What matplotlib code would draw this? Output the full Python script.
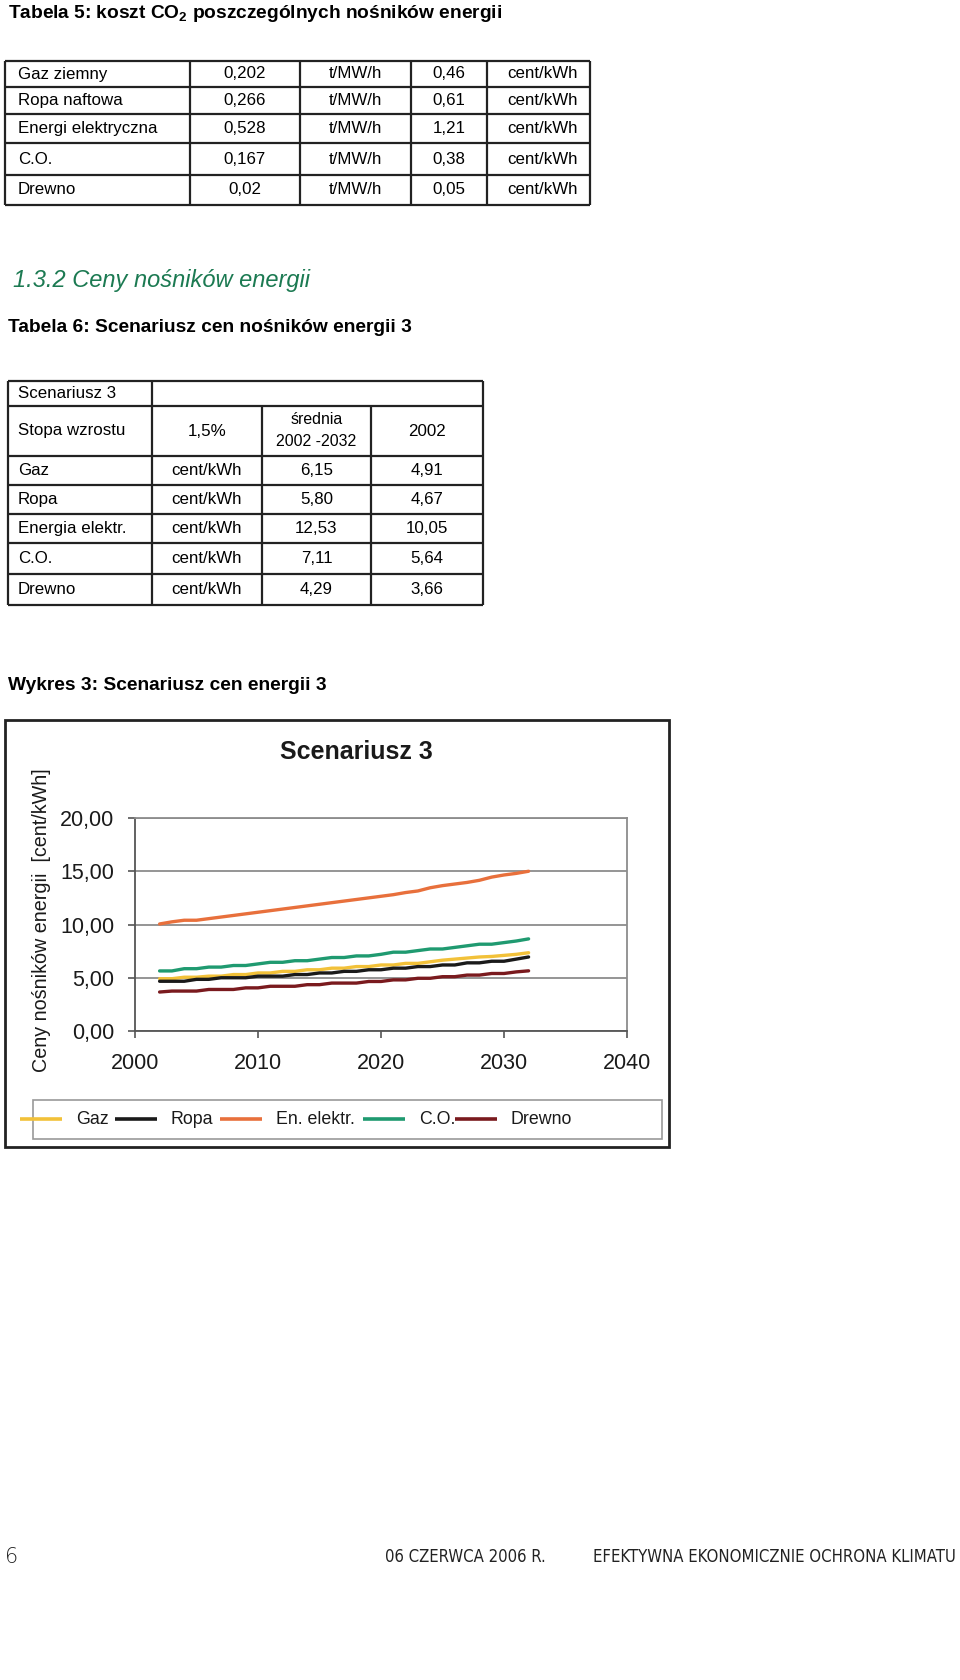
import matplotlib
matplotlib.use("Agg")
import matplotlib.pyplot as plt

plt.rcParams['font.family'] = ['Liberation Sans', 'DejaVu Sans']
plt.rcParams['mathtext.fontset'] = 'custom'
plt.rcParams['mathtext.rm'] = 'Liberation Sans'
plt.rcParams['mathtext.bf'] = 'Liberation Sans:bold'

# ---------------- data ----------------
t5_names = ["Gaz ziemny", "Ropa naftowa", "Energi elektryczna", "C.O.", "Drewno"]
t5_co2 = ["0,202", "0,266", "0,528", "0,167", "0,02"]
t5_unit1 = ["t/MW/h"] * 5
t5_cost = ["0,46", "0,61", "1,21", "0,38", "0,05"]
t5_unit2 = ["cent/kWh"] * 5

t6_names = ["Gaz", "Ropa", "Energia elektr.", "C.O.", "Drewno"]
t6_unit = ["cent/kWh"] * 5
t6_avg = ["6,15", "5,80", "12,53", "7,11", "4,29"]
t6_2002 = ["4,91", "4,67", "10,05", "5,64", "3,66"]

years = list(range(2002, 2033))
gaz = [4.91, 4.91, 5.05, 5.05, 5.15, 5.15, 5.30, 5.30, 5.45, 5.45, 5.60, 5.60, 5.75, 5.75,
       5.90, 5.90, 6.05, 6.05, 6.20, 6.20, 6.35, 6.35, 6.50, 6.65, 6.75, 6.85, 6.95, 7.00,
       7.10, 7.20, 7.35]
ropa = [4.67, 4.67, 4.67, 4.85, 4.85, 5.00, 5.00, 5.00, 5.15, 5.15, 5.15, 5.30, 5.30, 5.45,
        5.45, 5.60, 5.60, 5.75, 5.75, 5.90, 5.90, 6.05, 6.05, 6.20, 6.20, 6.40, 6.40, 6.55,
        6.55, 6.75, 6.95]
elektr = [10.05, 10.25, 10.40, 10.40, 10.55, 10.70, 10.85, 11.00, 11.15, 11.30, 11.45, 11.60,
          11.75, 11.90, 12.05, 12.20, 12.35, 12.50, 12.65, 12.80, 13.00, 13.15, 13.45, 13.65,
          13.80, 13.95, 14.15, 14.45, 14.65, 14.80, 15.00]
co = [5.64, 5.64, 5.85, 5.85, 6.00, 6.00, 6.15, 6.15, 6.30, 6.45, 6.45, 6.60, 6.60, 6.75,
      6.90, 6.90, 7.05, 7.05, 7.20, 7.40, 7.40, 7.55, 7.70, 7.70, 7.85, 8.00, 8.15, 8.15,
      8.30, 8.45, 8.65]
drewno = [3.66, 3.75, 3.75, 3.75, 3.90, 3.90, 3.90, 4.05, 4.05, 4.20, 4.20, 4.20, 4.35, 4.35,
          4.50, 4.50, 4.50, 4.65, 4.65, 4.80, 4.80, 4.95, 4.95, 5.10, 5.10, 5.25, 5.25, 5.40,
          5.40, 5.55, 5.65]
series_names = ["Gaz", "Ropa", "En. elektr.", "C.O.", "Drewno"]
series_vals = [gaz, ropa, elektr, co, drewno]
series_colors = ["#f2c139", "#1a1a1a", "#e8703c", "#1f9a70", "#7a1a1e"]
y_ticks = [0, 5, 10, 15, 20]
y_ticklabels = ["0,00", "5,00", "10,00", "15,00", "20,00"]
x_ticks = [2000, 2010, 2020, 2030, 2040]

# ---------------- figure ----------------
W, H = 960, 1680
fig = plt.figure(figsize=(W / 100, H / 100), dpi=100)
fig.patch.set_facecolor("white")
ov = fig.add_axes([0, 0, 1, 1])
ov.set_xlim(0, W)
ov.set_ylim(H, 0)
ov.axis("off")

def hline(x0, x1, y, lw=1.6, c="#222222"):
    ov.plot([x0, x1], [y, y], color=c, lw=lw, solid_capstyle="butt")

def vline(x, y0, y1, lw=1.6, c="#222222"):
    ov.plot([x, x], [y0, y1], color=c, lw=lw, solid_capstyle="butt")

TS = 12.2
HS = 13.8
# Title table 5
ov.text(8, 14, r"Tabela 5: koszt CO$_\mathbf{2}$ poszczególnych nośników energii",
        fontsize=HS, fontweight="bold", va="center", ha="left")

# Table 5
t5_rows = [61, 87, 114, 143, 175, 205]
t5_cols = [5, 190, 300, 411, 487, 590]
for y in t5_rows:
    hline(t5_cols[0], t5_cols[-1], y)
for x in t5_cols:
    vline(x, t5_rows[0], t5_rows[-1])
for i in range(5):
    yc = (t5_rows[i] + t5_rows[i + 1]) / 2
    ov.text(18, yc, t5_names[i], fontsize=TS, va="center", ha="left")
    ov.text((t5_cols[1] + t5_cols[2]) / 2, yc, t5_co2[i], fontsize=TS, va="center", ha="center")
    ov.text((t5_cols[2] + t5_cols[3]) / 2, yc, t5_unit1[i], fontsize=TS, va="center", ha="center")
    ov.text((t5_cols[3] + t5_cols[4]) / 2, yc, t5_cost[i], fontsize=TS, va="center", ha="center")
    ov.text(507, yc, t5_unit2[i], fontsize=TS, va="center", ha="left")

# Section heading
ov.text(13, 281, "1.3.2 Ceny nośników energii", fontsize=17, fontstyle="italic",
        color="#1c7a52", va="center", ha="left")

# Title table 6
ov.text(8, 327, "Tabela 6: Scenariusz cen nośników energii 3", fontsize=HS,
        fontweight="bold", va="center", ha="left")

# Table 6
t6_rows = [381, 406, 456, 485, 514, 543, 574, 605]
t6_cols = [8, 152, 262, 371, 483]
for y in t6_rows:
    hline(t6_cols[0], t6_cols[-1], y)
vline(t6_cols[0], t6_rows[0], t6_rows[-1])
vline(t6_cols[-1], t6_rows[0], t6_rows[-1])
vline(t6_cols[1], t6_rows[0], t6_rows[-1])
vline(t6_cols[2], t6_rows[1], t6_rows[-1])
vline(t6_cols[3], t6_rows[1], t6_rows[-1])
ov.text(18, 393.5, "Scenariusz 3", fontsize=TS, va="center", ha="left")
ov.text(18, 431, "Stopa wzrostu", fontsize=TS, va="center", ha="left")
ov.text((t6_cols[1] + t6_cols[2]) / 2, 431, "1,5%", fontsize=TS, va="center", ha="center")
ov.text((t6_cols[2] + t6_cols[3]) / 2, 420, "średnia", fontsize=TS - 0.8, va="center", ha="center")
ov.text((t6_cols[2] + t6_cols[3]) / 2, 442, "2002 -2032", fontsize=TS - 0.8, va="center", ha="center")
ov.text((t6_cols[3] + t6_cols[4]) / 2, 431, "2002", fontsize=TS, va="center", ha="center")
for i in range(5):
    yc = (t6_rows[i + 2] + t6_rows[i + 3]) / 2
    ov.text(18, yc, t6_names[i], fontsize=TS, va="center", ha="left")
    ov.text((t6_cols[1] + t6_cols[2]) / 2, yc, t6_unit[i], fontsize=TS, va="center", ha="center")
    ov.text((t6_cols[2] + t6_cols[3]) / 2, yc, t6_avg[i], fontsize=TS, va="center", ha="center")
    ov.text((t6_cols[3] + t6_cols[4]) / 2, yc, t6_2002[i], fontsize=TS, va="center", ha="center")

# Chart heading
ov.text(8, 686, "Wykres 3: Scenariusz cen energii 3", fontsize=HS, fontweight="bold",
        va="center", ha="left")

# Chart outer frame
ov.add_patch(plt.Rectangle((5, 720), 664, 427, fill=False, edgecolor="#222222", lw=2))
ov.text(356, 752, "Scenariusz 3", fontsize=18, fontweight="bold", va="center", ha="center",
        color="#1a1a1a")
ov.text(42, 920, "Ceny nośników energii  [cent/kWh]", fontsize=14.2, rotation=90,
        va="center", ha="center", color="#1a1a1a")

# Legend box
ov.add_patch(plt.Rectangle((33, 1100), 629, 39, fill=False, edgecolor="#999999", lw=1.2))
leg_x = [20, 115, 220, 363, 455]
for i, name in enumerate(series_names):
    x0 = leg_x[i]
    ov.plot([x0, x0 + 42], [1119, 1119], color=series_colors[i], lw=2.6, solid_capstyle="butt")
    ov.text(x0 + 56, 1119, name, fontsize=12.8, va="center", ha="left", color="#1a1a1a")

# Plot axes
L, R, T, B = 135, 627, 818, 1031
ax = fig.add_axes([L / W, 1 - B / H, (R - L) / W, (B - T) / H])
for name, vals, col in zip(series_names, series_vals, series_colors):
    ax.plot(years, vals, color=col, lw=2.4, solid_joinstyle="round", solid_capstyle="round")
ax.set_xlim(2000, 2040)
ax.set_ylim(0, 20)
ax.set_yticks(y_ticks)
ax.set_yticklabels(y_ticklabels)
ax.set_xticks(x_ticks)
ax.set_xticklabels([str(v) for v in x_ticks])
ax.yaxis.grid(True, color="#8c8c8c", lw=1.3)
ax.set_axisbelow(True)
for s in ["top", "right"]:
    ax.spines[s].set_color("#8c8c8c")
    ax.spines[s].set_linewidth(1.3)
for s in ["left", "bottom"]:
    ax.spines[s].set_color("#555555")
    ax.spines[s].set_linewidth(1.3)
ax.tick_params(axis="both", direction="out", length=5, width=1.2, color="#555555",
               labelsize=15.5, labelcolor="#1a1a1a")
ax.tick_params(axis="y", pad=10)
ax.tick_params(axis="x", pad=11)

# Footer
ov.text(5, 1557, "6", fontsize=15, va="center", ha="left", color="#222222",
        family=["DejaVu Sans"], fontweight="light")
ov.text(385, 1557, "06 CZERWCA 2006 R.", fontsize=12, va="center", ha="left",
        color="#222222", family=["DejaVu Sans"], fontstretch="condensed")
ov.text(956, 1557, "EFEKTYWNA EKONOMICZNIE OCHRONA KLIMATU", fontsize=12, va="center",
        ha="right", color="#222222", family=["DejaVu Sans"], fontstretch="condensed")

fig.savefig("out.png", dpi=100)
